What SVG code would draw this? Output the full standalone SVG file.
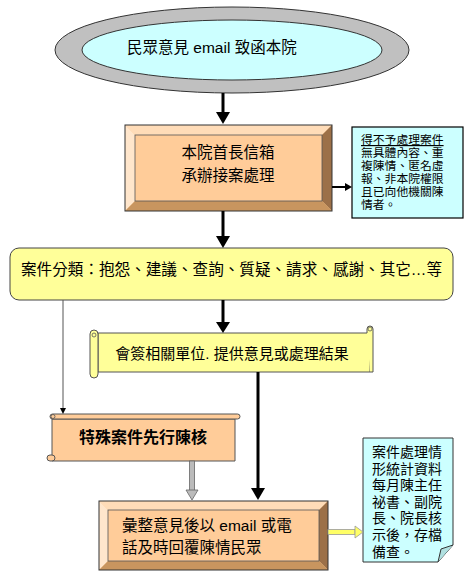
<svg xmlns="http://www.w3.org/2000/svg" width="466" height="576" viewBox="0 0 466 576">
<style>
text{font-family:"Liberation Sans","Noto Sans CJK TC",sans-serif;fill:#000}
.t16{font-size:15.5px}
.small{font-size:11.8px}
.note{font-size:14px}
</style>
<rect width="466" height="576" fill="#fff"/>
<g id="start">
<ellipse cx="232" cy="50" rx="177" ry="43" fill="#c0c0c0" stroke="#333" stroke-width="1"/>
<ellipse cx="232" cy="50" rx="150" ry="30" fill="#ccffff" stroke="#333" stroke-width="1"/>
<text class="t16" x="127" y="53">民眾意見 email 致函本院</text>
</g>
<g id="receive">
<rect x="125" y="125" width="207" height="86" fill="#ffcc99"/>
<polygon points="125,125 332,125 322,135 135,135" fill="#ffdcb8"/>
<polygon points="125,125 135,135 135,201 125,211" fill="#ffe6cc"/>
<polygon points="332,125 332,211 322,201 322,135" fill="#9c7048"/>
<polygon points="125,211 332,211 322,201 135,201" fill="#c8955f"/>
<rect x="125" y="125" width="207" height="86" fill="none" stroke="#333" stroke-width="1"/>
<rect x="135" y="135" width="187" height="66" fill="none" stroke="#555" stroke-width="0.8"/>
<text class="t16" x="228" y="158" text-anchor="middle">本院首長信箱</text>
<text class="t16" x="228" y="181" text-anchor="middle">承辦接案處理</text>
</g>
<g id="reject">
<rect x="352" y="127" width="111" height="91" fill="#ccffff" stroke="#000" stroke-width="1.2"/>
<text class="small" x="361" y="144" text-decoration="underline">得不予處理案件</text>
<text class="small" x="361" y="157">無具體內容、重</text>
<text class="small" x="361" y="170">複陳情、匿名虛</text>
<text class="small" x="361" y="183">報、非本院權限</text>
<text class="small" x="361" y="196">且已向他機關陳</text>
<text class="small" x="361" y="209">情者。</text>
</g>
<g id="classify">
<rect x="10" y="248" width="443" height="52" rx="9" fill="#ffff99" stroke="#444" stroke-width="1"/>
<text x="21" y="275" style="font-size:15.6px">案件分類：抱怨、建議、查詢、質疑、請求、感謝、其它…等</text>
</g>
<g id="consult">
<path d="M98,333 H370 V372 H98 Z" fill="#ffff99" stroke="#555" stroke-width="1"/>
<path d="M367,333 V329 a3,3 0 0 1 6,0 V372 H370" fill="#ffff99" stroke="#555" stroke-width="1"/>
<circle cx="370" cy="329" r="2" fill="none" stroke="#555" stroke-width="0.8"/>
<rect x="90" y="330" width="8" height="48" rx="4" fill="#ffff99" stroke="#555" stroke-width="1"/>
<circle cx="94" cy="335" r="2" fill="none" stroke="#555" stroke-width="0.8"/>
<text x="232" y="359" text-anchor="middle" style="font-size:15px">會簽相關單位. 提供意見或處理結果</text>
</g>
<g id="special">
<path d="M52,419 H235 V461 H52 Z" fill="#ffcc99" stroke="#555" stroke-width="1"/>
<rect x="50" y="414" width="190" height="5" rx="2.5" fill="#ffcc99" stroke="#555" stroke-width="1"/>
<circle cx="53" cy="416.5" r="2" fill="none" stroke="#555" stroke-width="0.8"/>
<rect x="47" y="455" width="8" height="6" rx="3" fill="#ffcc99" stroke="#555" stroke-width="1"/>
<text x="143" y="443" text-anchor="middle" style="font-size:16px;font-weight:bold">特殊案件先行陳核</text>
</g>
<g id="reply">
<rect x="99" y="501" width="229" height="69" fill="#ffcc99"/>
<polygon points="99,501 328,501 319,510 108,510" fill="#ffdcb8"/>
<polygon points="99,501 108,510 108,561 99,570" fill="#ffe6cc"/>
<polygon points="328,501 328,570 319,561 319,510" fill="#9c7048"/>
<polygon points="99,570 328,570 319,561 108,561" fill="#c8955f"/>
<rect x="99" y="501" width="229" height="69" fill="none" stroke="#333" stroke-width="1"/>
<rect x="108" y="510" width="211" height="51" fill="none" stroke="#555" stroke-width="0.8"/>
<text class="t16" x="122" y="531">彙整意見後以 email 或電</text>
<text class="t16" x="122" y="553">話及時回覆陳情民眾</text>
</g>
<g id="archive">
<path d="M363,438 H453 V545 L438,562 H363 Z" fill="#ccffff" stroke="#333" stroke-width="1"/>
<path d="M438,562 L441,549 L453,545" fill="#b0e0e0" stroke="#333" stroke-width="1"/>
<text class="note" x="372" y="457">案件處理情</text>
<text class="note" x="372" y="473.5">形統計資料</text>
<text class="note" x="372" y="490">每月陳主任</text>
<text class="note" x="372" y="506.5">祕書、副院</text>
<text class="note" x="372" y="523">長、院長核</text>
<text class="note" x="372" y="540">示後，存檔</text>
<text class="note" x="372" y="556.5">備查。</text>
</g>
<g id="connectors">
<line x1="223" y1="93" x2="223" y2="113" stroke="#000" stroke-width="3"/>
<polygon points="216,112 230,112 223,124" fill="#000"/>
<line x1="223" y1="211" x2="223" y2="237" stroke="#000" stroke-width="3"/>
<polygon points="216,236 230,236 223,248" fill="#000"/>
<line x1="223" y1="300" x2="223" y2="323" stroke="#000" stroke-width="3"/>
<polygon points="216,322 230,322 223,333" fill="#000"/>
<line x1="332" y1="187" x2="346" y2="187" stroke="#000" stroke-width="2"/>
<polygon points="345,183 352,187 345,191" fill="#000"/>
<line x1="63" y1="300" x2="63" y2="409" stroke="#555" stroke-width="1"/>
<polygon points="60,408 66,408 63,414" fill="#000"/>
<line x1="258" y1="372" x2="258" y2="489" stroke="#000" stroke-width="3"/>
<polygon points="251,488 265,488 258,500" fill="#000"/>
<rect x="189.5" y="461" width="5" height="30" fill="#bbb" stroke="#666" stroke-width="0.8"/>
<polygon points="186,490 198,490 192,500" fill="#bbb" stroke="#666" stroke-width="0.8"/>
<rect x="328" y="529.5" width="27" height="5" fill="#ffff66" stroke="#999" stroke-width="0.8"/>
<polygon points="355,526 363,532 355,538" fill="#ffff66" stroke="#999" stroke-width="0.8"/>
</g>
</svg>
